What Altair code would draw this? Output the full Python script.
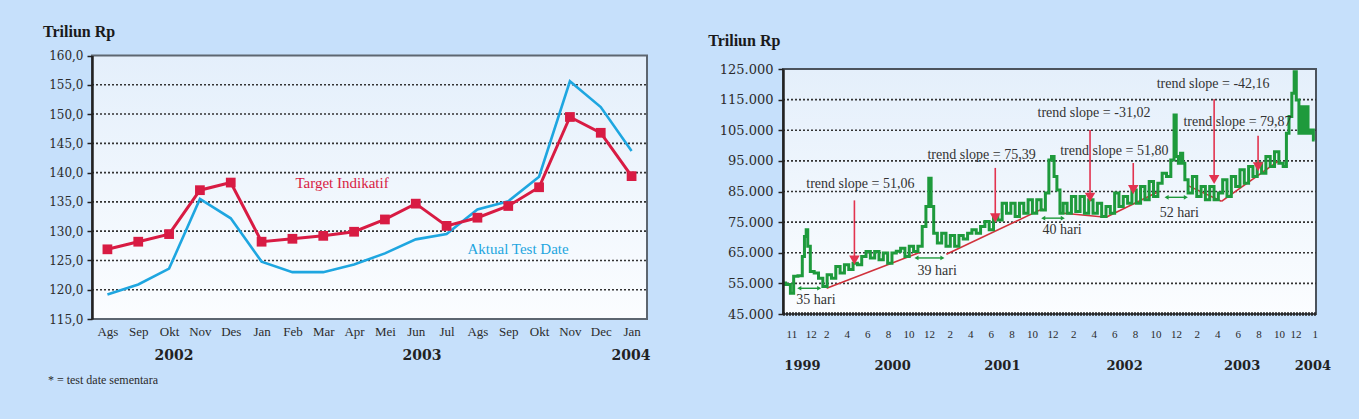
import json
import altair as alt
import pandas as pd

# ------------------------------------------------------------------ left panel data
months = ["Ags", "Sep", "Okt", "Nov", "Des", "Jan", "Feb", "Mar", "Apr", "Mei",
          "Jun", "Jul", "Ags", "Sep", "Okt", "Nov", "Dec", "Jan"]
target = [126.9, 128.2, 129.5, 137.0, 138.3, 128.2, 128.7, 129.2, 129.9, 132.0,
          134.7, 130.9, 132.3, 134.3, 137.5, 149.5, 146.8, 139.4]
aktual = [119.2, 120.9, 123.6, 135.5, 132.2, 124.8, 123.0, 123.0, 124.3, 126.2,
          128.6, 129.5, 133.7, 135.1, 139.3, 155.6, 151.2, 143.7]
left_grid = [120, 125, 130, 135, 140, 145, 150, 155]
left_years = ["2002", "2003", "2004"]
left_year_at = [2.16, 10.20, 16.98]

# ------------------------------------------------------------------ right panel data
# x = month index (Jan 1999 = 1), y = Rp
wk_m = [9.80, 10.31, 10.73, 10.94, 11.57, 11.78, 11.99, 12.12, 12.29, 12.62, 13.04, 13.46, 13.88,
        14.30, 14.72, 15.14, 15.56, 15.98, 16.40, 16.82, 17.24, 17.66, 18.08, 18.50, 18.92,
        19.34, 19.76, 20.18, 20.60, 21.02, 21.44, 21.86, 22.28, 22.70, 23.12, 23.54, 23.84,
        24.09, 24.30, 24.59, 25.01, 25.43, 25.85, 26.27, 26.69, 27.11, 27.53, 27.95, 28.37,
        28.79, 29.21, 29.63, 30.05, 30.47, 30.89, 31.31, 31.73, 32.15, 32.57, 32.99, 33.41,
        33.83, 34.25, 34.67, 35.09, 35.51, 35.77, 36.02, 36.27, 36.57, 36.86, 37.20, 37.62,
        38.04, 38.46, 38.88, 39.30, 39.72, 40.14, 40.56, 40.98, 41.40, 41.82, 42.24, 42.66,
        43.08, 43.50, 43.92, 44.34, 44.76, 45.18, 45.60, 46.02, 46.44, 46.86, 47.28, 47.70,
        47.91, 48.12, 48.33, 48.54, 48.75, 48.96, 49.38, 49.80, 50.22, 50.64, 51.06, 51.48,
        51.90, 52.32, 52.74, 53.16, 53.58, 54.00, 54.42, 54.84, 55.26, 55.68, 56.10, 56.52,
        56.94, 57.36, 57.78, 58.20, 58.62, 58.83, 59.12, 59.38, 59.58, 59.79, 60.09, 60.30,
        60.51, 60.72, 60.93, 61.22, 61.47]
wk_v = [55100, 54600, 51800, 57300, 57500, 63800, 70300, 72500, 67100, 58900, 58400, 56700, 54000,
        57800, 56700, 60500, 58400, 61100, 59500, 61600, 61100, 63800, 65400, 63300, 65400,
        62700, 64900, 61600, 64900, 65500, 66500, 63800, 67100, 65400, 67100, 73600, 80100,
        89300, 80100, 71400, 68200, 71400, 67100, 70600, 67100, 70600, 69500, 71400, 72500,
        71400, 73600, 75200, 72500, 76800, 75700, 81200, 77900, 81200, 76800, 81200, 77900,
        82300, 77900, 82300, 79000, 84500, 95300, 96400, 89900, 85500, 77900, 81200, 77900,
        83400, 78500, 83400, 77900, 82300, 77900, 81200, 76800, 80100, 77900, 84500, 80100,
        83400, 81200, 85500, 81200, 86600, 82300, 88300, 83400, 87700, 91000, 89900, 95300,
        110000, 96400, 94200, 97500, 94200, 88800, 84500, 89900, 83400, 86600, 82300, 86600,
        82300, 84500, 88800, 83400, 89900, 86600, 92100, 87700, 93200, 89900, 94200, 91000,
        96400, 93200, 98000, 94200, 93200, 104000, 109500, 117100, 124100, 114900, 104000, 112700,
        104000, 112700, 104000, 105100, 101800]
right_grid = [55000, 65000, 75000, 85000, 95000, 105000, 115000]
right_ticks = [11, 12, 14, 16, 18, 20, 22, 24, 26, 28, 30, 32, 34, 36, 38, 40, 42, 44, 46, 48,
               50, 52, 54, 56, 58, 60, 61]
right_years = ["1999", "2000", "2001", "2002", "2003", "2004"]
right_year_at = [11.69, 20.45, 31.12, 43.0, 54.42, 61.3]

trend_x1 = [14.04, 25.68, 37.10, 41.20, 49.11, 52.41]
trend_x2 = [23.08, 35.05, 41.20, 46.37, 52.41, 58.00]
trend_y1 = [53400, 64500, 77900, 76600, 87000, 81800]
trend_y2 = [65100, 79400, 76600, 85100, 81800, 95100]
trend_text = ["trend slope = 51,06", "trend slope = 75,39", "trend slope = -31,02",
              "trend slope = 51,80", "trend slope = -42,16", "trend slope = 79,87"]
trend_text_x = [17.32, 29.10, 40.02, 42.00, 51.60, 53.97]
trend_text_y = [87500, 97000, 110500, 98300, 120000, 107800]
arrow_x = [16.74, 30.43, 39.64, 43.84, 51.70, 55.97]
arrow_top = [82100, 92700, 105100, 94300, 115100, 103200]
arrow_head = [62600, 76400, 83100, 85600, 88900, 93100]
hari_text = ["35 hari", "39 hari", "40 hari", "52 hari"]
hari_text_x = [13.0, 24.79, 36.92, 48.31]
hari_text_y = [49600, 59000, 72500, 78100]
hari_from = [11.38, 22.77, 35.09, 47.08]
hari_to = [13.32, 25.29, 36.99, 48.95]
hari_level = [53400, 63300, 76300, 83100]

# ------------------------------------------------------------------ styles
BG = "#c6e0fb"
RED = "#d81b43"
BLUE = "#1ea6e0"
GREEN = "#1e9a3c"
ARROW = "#e2334f"
TXT = "#2b2b2b"
SERIF = "Liberation Serif"
NUM = "DejaVu Serif"
grad = alt.LinearGradient(gradient="linear",
                          stops=[alt.GradientStop(color="#e4effb", offset=0),
                                 alt.GradientStop(color="#fbfdff", offset=1)],
                          x1=0, x2=0, y1=0, y2=1)

LX = alt.Scale(domain=[-0.5, 17.5], range=[92, 647], nice=False, zero=False)
LY = alt.Scale(domain=[115, 160], range=[319, 55.5], nice=False, zero=False)
RX = alt.Scale(domain=[9.8, 61.6], range=[783, 1316], nice=False, zero=False)
RY = alt.Scale(domain=[45000, 125000], range=[314, 69], nice=False, zero=False)

month_expr = json.dumps(months) + "[datum.value]"
LXA = alt.Axis(orient="bottom", offset=319 - 419, values=list(range(len(months))),
               labelExpr=month_expr, domain=False, ticks=False, grid=False,
               labelFont=SERIF, labelFontSize=13, labelColor=TXT, labelPadding=6,
               labelOverlap=False, title=None, zindex=1)
LYA = alt.Axis(orient="left", offset=-92, values=list(range(115, 161, 5)),
               labelExpr="replace(format(datum.value, '.1f'), '.', ',')",
               grid=False, domainColor="#222222", domainWidth=2.5,
               tickColor="#222222", tickSize=5, tickWidth=1.5,
               labelFont=NUM, labelFontSize=12, labelColor=TXT, labelPadding=4,
               labelOverlap=False, title=None, zindex=1)
RXA = alt.Axis(orient="bottom", offset=314 - 419, values=right_ticks,
               labelExpr="((datum.value - 1) % 12) + 1",
               labelOffset={"condition": [
                   {"test": "datum.value == 11 || datum.value == 60", "value": -4},
                   {"test": "datum.value == 12 || datum.value == 61", "value": 5}],
                   "value": 0},
               domain=False, ticks=False, grid=False,
               labelFont=SERIF, labelFontSize=11, labelColor=TXT, labelPadding=14,
               labelOverlap=False, labelFlush=False, title=None, zindex=1)
RYA = alt.Axis(orient="left", offset=-783, values=list(range(45000, 125001, 10000)),
               labelExpr="replace(format(datum.value, ','), ',', '.')",
               grid=False, domainColor="#222222", domainWidth=2.5,
               tickColor="#222222", tickSize=5, tickWidth=1.5,
               labelFont=NUM, labelFontSize=13, labelColor=TXT, labelPadding=5,
               labelOverlap=False, title=None, zindex=1)


def lx(f):
    return alt.X(f, scale=LX, axis=LXA)


def ly(f):
    return alt.Y(f, scale=LY, axis=LYA)


def rx(f):
    return alt.X(f, scale=RX, axis=RXA)


def ry(f):
    return alt.Y(f, scale=RY, axis=RYA)


# ------------------------------------------------------------------ left panel
ldf = pd.DataFrame({"i": list(range(len(months))), "target": target, "aktual": aktual})
lframe_df = pd.DataFrame({"x": [LX.domain[0]], "x2": [LX.domain[1]],
                          "y": [LY.domain[0]], "y2": [LY.domain[1]]})
lgrid_df = pd.DataFrame({"g": left_grid, "x": LX.domain[0], "x2": LX.domain[1]})

lframe = alt.Chart(lframe_df).mark_rect(fill=grad, stroke="#5d6670", strokeWidth=2).encode(
    x=lx("x:Q"), x2="x2:Q", y=ly("y:Q"), y2="y2:Q")
lgrid = alt.Chart(lgrid_df).mark_rule(color="#333333", strokeWidth=1.6, strokeDash=[2, 2]).encode(
    x=lx("x:Q"), x2="x2:Q", y=ly("g:Q"))
l_akt = alt.Chart(ldf).mark_line(color=BLUE, strokeWidth=2.6).encode(x=lx("i:Q"), y=ly("aktual:Q"))
l_tgt = alt.Chart(ldf).mark_line(color=RED, strokeWidth=3).encode(x=lx("i:Q"), y=ly("target:Q"))
l_tgt_pts = alt.Chart(ldf).mark_square(color=RED, size=95, opacity=1).encode(
    x=lx("i:Q"), y=ly("target:Q"))

l_series_lbl = pd.DataFrame({"t": ["Target Indikatif", "Aktual Test Date"],
                             "x": [7.61, 13.32], "y": [138.3, 126.9], "c": [RED, BLUE]})
l_series_txt = alt.Chart(l_series_lbl).mark_text(font=SERIF, fontSize=15, baseline="middle").encode(
    x=lx("x:Q"), y=ly("y:Q"), text="t:N", color=alt.Color("c:N", scale=None))

l_years = alt.Chart(pd.DataFrame({"t": left_years, "x": left_year_at, "y": 108.6})).mark_text(
    font=NUM, fontSize=14, fontWeight="bold", color="#222222", baseline="middle").encode(
    x=lx("x:Q"), y=ly("y:Q"), text="t:N")
l_title = alt.Chart(pd.DataFrame({"t": ["Triliun Rp"], "x": [-2.09], "y": [164.0]})).mark_text(
    font=SERIF, fontSize=16, fontWeight="bold", color="#1a1a1a", align="left", baseline="middle").encode(
    x=lx("x:Q"), y=ly("y:Q"), text="t:N")
l_note = alt.Chart(pd.DataFrame({"t": ["* = test date sementara"], "x": [-1.93], "y": [104.6]})).mark_text(
    font=SERIF, fontSize=12, color=TXT, align="left", baseline="middle").encode(
    x=lx("x:Q"), y=ly("y:Q"), text="t:N")

left = alt.layer(lframe, lgrid, l_akt, l_tgt, l_tgt_pts, l_series_txt, l_years, l_title, l_note)

# ------------------------------------------------------------------ right panel
rdf = pd.DataFrame({"m": wk_m, "v": wk_v})
rframe_df = pd.DataFrame({"x": [RX.domain[0]], "x2": [RX.domain[1]],
                          "y": [RY.domain[0]], "y2": [RY.domain[1]]})
rgrid_df = pd.DataFrame({"g": right_grid, "x": RX.domain[0], "x2": RX.domain[1]})

rframe = alt.Chart(rframe_df).mark_rect(fill=grad, stroke="#4b535c", strokeWidth=2).encode(
    x=rx("x:Q"), x2="x2:Q", y=ry("y:Q"), y2="y2:Q")
rgrid = alt.Chart(rgrid_df).mark_rule(color="#333333", strokeWidth=1.6, strokeDash=[2, 2]).encode(
    x=rx("x:Q"), x2="x2:Q", y=ry("g:Q"))
rbase = alt.Chart(rframe_df).mark_rule(color="#2a2a2a", strokeWidth=3.5, strokeDash=[2, 1]).encode(
    x=rx("x:Q"), x2="x2:Q", y=ry("y:Q"))

trend_df = pd.DataFrame({"x1": trend_x1, "x2": trend_x2, "y1": trend_y1, "y2": trend_y2})
r_trend = alt.Chart(trend_df).mark_rule(color="#d1323c", strokeWidth=1.6).encode(
    x=rx("x1:Q"), x2="x2:Q", y=ry("y1:Q"), y2="y2:Q")

r_line = alt.Chart(rdf).mark_line(color=GREEN, strokeWidth=3, interpolate="step").encode(
    x=rx("m:Q"), y=ry("v:Q"))

arrow_df = pd.DataFrame({"x": arrow_x, "top": arrow_top, "head": arrow_head})
r_arrow = alt.Chart(arrow_df).mark_rule(color=ARROW, strokeWidth=1.6).encode(
    x=rx("x:Q"), y=ry("top:Q"), y2="head:Q")
r_head = alt.Chart(arrow_df).mark_point(shape="triangle-down", filled=True, color=ARROW,
                                        size=110, opacity=1).encode(x=rx("x:Q"), y=ry("head:Q"))

ttext_df = pd.DataFrame({"t": trend_text, "x": trend_text_x, "y": trend_text_y})
r_ttext = alt.Chart(ttext_df).mark_text(font=SERIF, fontSize=14, color="#333333",
                                        baseline="middle").encode(
    x=rx("x:Q"), y=ry("y:Q"), text="t:N")

hari_df = pd.DataFrame({"t": hari_text, "x": hari_text_x, "y": hari_text_y,
                        "a": hari_from, "b": hari_to, "lv": hari_level})
r_hari_rule = alt.Chart(hari_df).mark_rule(color=GREEN, strokeWidth=1.4).encode(
    x=rx("a:Q"), x2="b:Q", y=ry("lv:Q"))
r_hari_l = alt.Chart(hari_df).mark_point(shape="triangle-left", filled=True, color=GREEN,
                                         size=22, opacity=1).encode(x=rx("a:Q"), y=ry("lv:Q"))
r_hari_r = alt.Chart(hari_df).mark_point(shape="triangle-right", filled=True, color=GREEN,
                                         size=22, opacity=1).encode(x=rx("b:Q"), y=ry("lv:Q"))
r_hari_t = alt.Chart(hari_df).mark_text(font=SERIF, fontSize=14, color="#333333",
                                        baseline="middle").encode(
    x=rx("x:Q"), y=ry("y:Q"), text="t:N")

r_years = alt.Chart(pd.DataFrame({"t": right_years, "x": right_year_at, "y": 28100})).mark_text(
    font=NUM, fontSize=13, fontWeight="bold", color="#222222", baseline="middle").encode(
    x=rx("x:Q"), y=ry("y:Q"), text="t:N")
r_title = alt.Chart(pd.DataFrame({"t": ["Triliun Rp"], "x": [2.53], "y": [134300]})).mark_text(
    font=SERIF, fontSize=16, fontWeight="bold", color="#1a1a1a", align="left", baseline="middle").encode(
    x=rx("x:Q"), y=ry("y:Q"), text="t:N")

right = alt.layer(rframe, rgrid, rbase, r_trend, r_line, r_arrow, r_head, r_ttext,
                  r_hari_rule, r_hari_l, r_hari_r, r_hari_t, r_years, r_title)

chart = (alt.layer(left, right)
         .resolve_scale(x="independent", y="independent")
         .resolve_axis(x="independent", y="independent")
         .properties(width=1359, height=419, padding=0, autosize="none", background=BG)
         .configure_view(stroke=None))

chart.save("out.html", embed_options={"renderer": "svg", "actions": False})
